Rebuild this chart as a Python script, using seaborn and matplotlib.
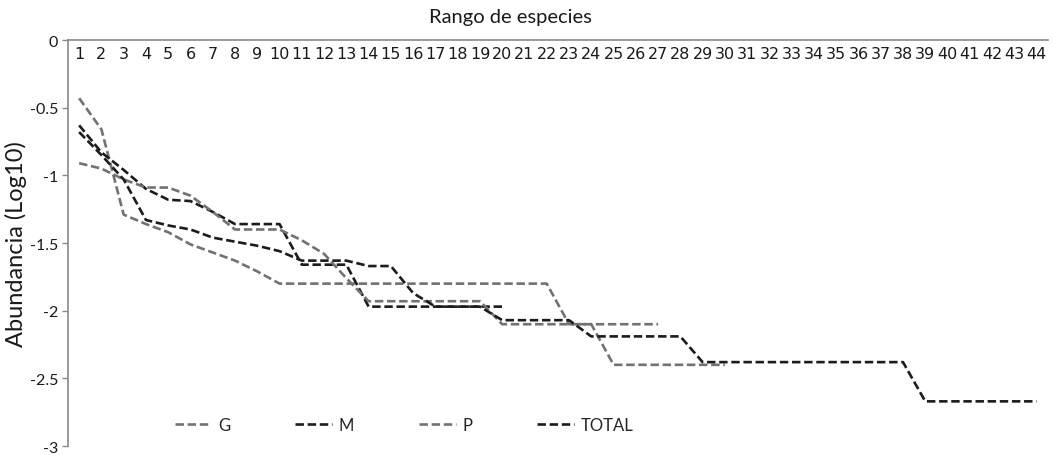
import matplotlib
matplotlib.use("Agg")
import matplotlib.pyplot as plt
import pandas as pd
import seaborn as sns

# rango de especies (1..44)
rango = list(range(1, 45))

g_vals = [-0.43, -0.66, -1.29, -1.36, -1.42, -1.51, -1.57, -1.63, -1.71, -1.80,
          -1.80, -1.80, -1.80, -1.80, -1.80, -1.80, -1.80, -1.80, -1.80, -1.80,
          -1.80, -1.80, -2.10, -2.10, -2.40, -2.40, -2.40, -2.40, -2.40, -2.40]
m_vals = [-0.63, -0.83, -0.96, -1.10, -1.18, -1.19, -1.27, -1.36, -1.36, -1.36,
          -1.66, -1.66, -1.66, -1.97, -1.97, -1.97, -1.97, -1.97, -1.97, -1.97]
p_vals = [-0.91, -0.95, -1.03, -1.09, -1.09, -1.15, -1.27, -1.40, -1.40, -1.40,
          -1.48, -1.58, -1.76, -1.93, -1.93, -1.93, -1.93, -1.93, -1.93, -2.10,
          -2.10, -2.10, -2.10, -2.10, -2.10, -2.10, -2.10]
total_vals = [-0.68, -0.85, -1.03, -1.33, -1.37, -1.40, -1.46, -1.49, -1.52, -1.56,
              -1.63, -1.63, -1.63, -1.67, -1.67, -1.87, -1.97, -1.97, -1.97, -2.07,
              -2.07, -2.07, -2.07, -2.19, -2.19, -2.19, -2.19, -2.19, -2.38, -2.38,
              -2.38, -2.38, -2.38, -2.38, -2.38, -2.38, -2.38, -2.38, -2.67, -2.67,
              -2.67, -2.67, -2.67, -2.67]

series = {"G": g_vals, "M": m_vals, "P": p_vals, "TOTAL": total_vals}
colores = {"G": "#727272", "M": "#1c1c1c", "P": "#727272", "TOTAL": "#1c1c1c"}

rows = []
for name, vals in series.items():
    for r, v in zip(rango, vals):
        rows.append({"rango": r, "abundancia": v, "serie": name})
df = pd.DataFrame(rows)

sns.set_theme(style="white")
plt.rcParams["font.family"] = ["Lato", "DejaVu Sans"]
plt.rcParams["axes.unicode_minus"] = False

fig = plt.figure(figsize=(10.53, 4.56), dpi=100)
ax = fig.add_axes([0.0646, 0.0197, 0.9304, 0.8903])

for name in series:
    sub = df[df["serie"] == name]
    sns.lineplot(data=sub, x="rango", y="abundancia", ax=ax, color=colores[name],
                 label=name, linewidth=1.9, linestyle=(0, (3.2, 1.4)))

ax.set_xlim(0.5, 44.5)
ax.set_ylim(-3, 0)
ax.set_yticks([0, -0.5, -1, -1.5, -2, -2.5, -3])
ax.set_yticklabels(["0", "-0.5", "-1", "-1.5", "-2", "-2.5", "-3"])
ax.set_xticks(rango)
ax.set_xticklabels([str(r) for r in rango], family=["Liberation Sans Narrow", "DejaVu Sans"])

ax.xaxis.set_ticks_position("top")
ax.tick_params(axis="x", top=True, bottom=False, labeltop=True, labelbottom=False,
               length=0, pad=-15, labelsize=11.5, colors="#1a1a1a")
ax.tick_params(axis="y", left=True, length=4, width=1, color="#8a8a8a",
               labelsize=11.5, labelcolor="#1a1a1a", pad=3)

for s in ["right", "bottom"]:
    ax.spines[s].set_visible(False)
for s in ["left", "top"]:
    ax.spines[s].set_color("#8a8a8a")
    ax.spines[s].set_linewidth(1.2)

ax.set_xlabel("")
ax.set_ylabel("Abundancia (Log10)", fontsize=17, color="#1a1a1a", labelpad=2)
fig.text(510 / 1053, 1 - 18 / 456, "Rango de especies", ha="center", va="center",
         fontsize=14.5, color="#1a1a1a")

ax.legend(loc="center", bbox_to_anchor=(0.343, 0.052), ncol=4, frameon=False,
          fontsize=12, handlelength=2.2, handletextpad=0.4, columnspacing=3.9)

fig.savefig("out.png", dpi=100)
